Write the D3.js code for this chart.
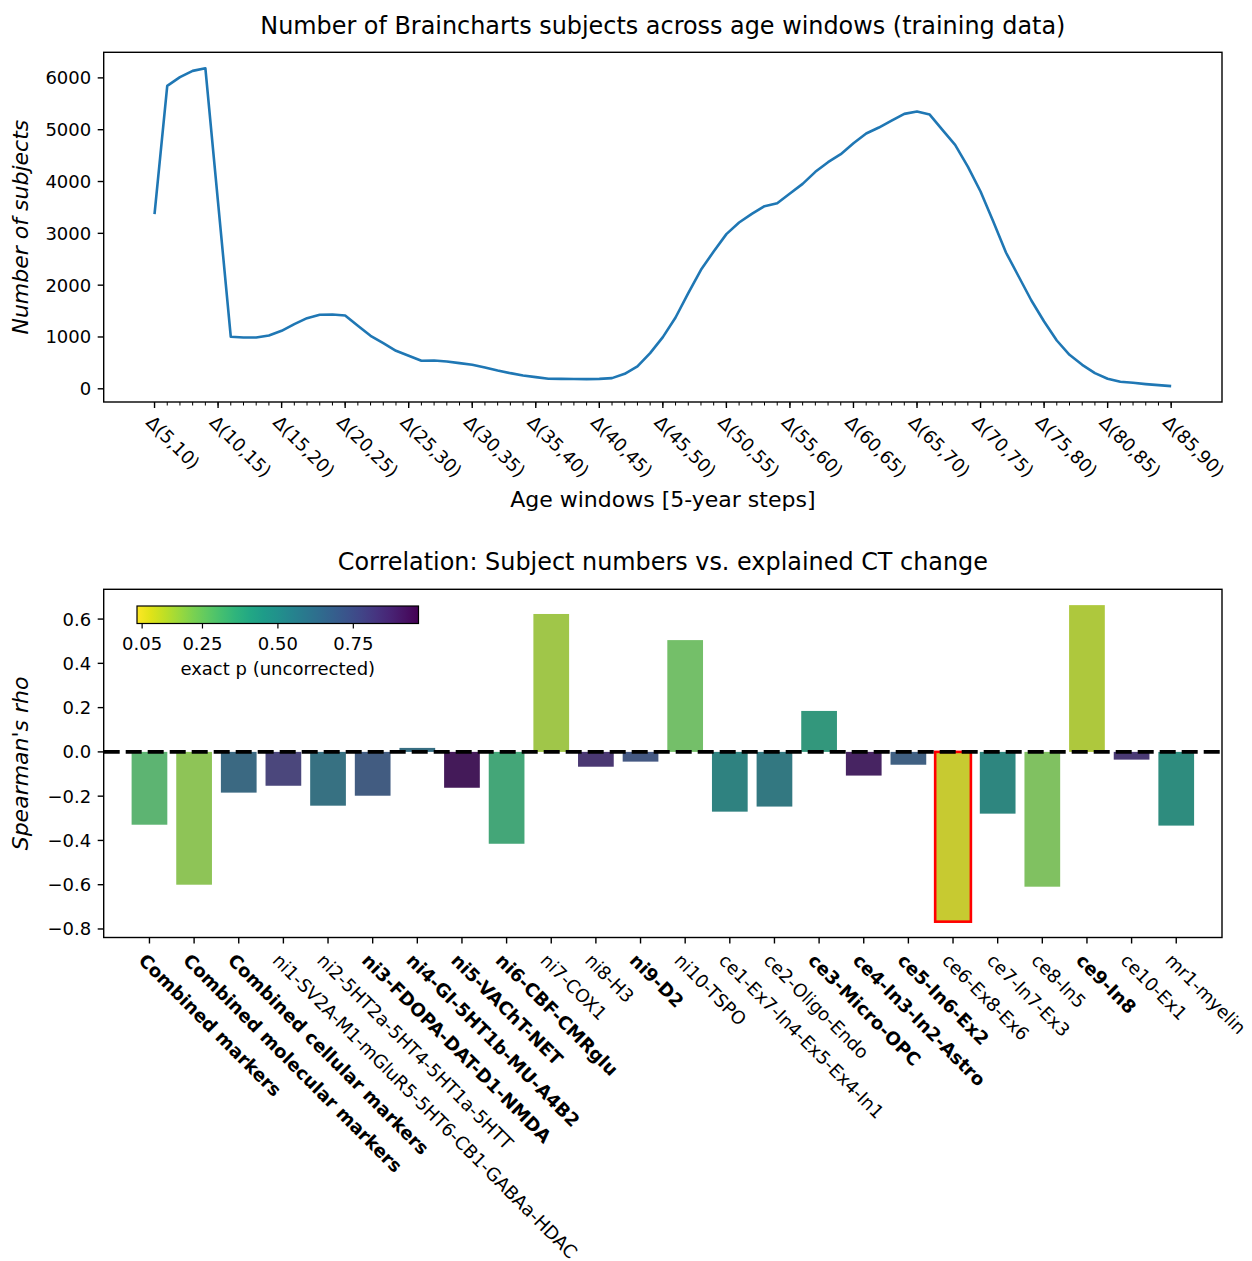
<!DOCTYPE html>
<html>
<head>
<meta charset="utf-8">
<script src="https://cdn.jsdelivr.net/npm/d3@7"></script>
<style>
  body { margin: 0; background: #fff; }
  text { font-family: "DejaVu Sans", sans-serif; fill: #000; }
</style>
</head>
<body>
<div id="fig"></div>
<script>
// subjects per 5-year window, window start age 5 .. 85 (1-year steps)
var subjectCounts = [
    3370, 5846, 6014, 6135, 6187, 3595, 1003, 990, 990, 1029,
    1119, 1248, 1363, 1428, 1434, 1415, 1216, 1023, 881, 733,
    637, 540, 547, 527, 495, 463, 412, 354, 302, 257,
    225, 195, 192, 188, 186, 192, 206, 289, 431, 688,
    997, 1376, 1846, 2296, 2650, 2985, 3209, 3376, 3524, 3582,
    3768, 3955, 4187, 4373, 4528, 4740, 4926, 5042, 5177, 5306,
    5350, 5292, 4997, 4708, 4289, 3807, 3228, 2630, 2167, 1704,
    1298, 932, 656, 463, 303, 193, 135, 116, 91, 71,
    52
];
var windowTickLabels = ["Δ(5,10)", "Δ(10,15)", "Δ(15,20)", "Δ(20,25)", "Δ(25,30)", "Δ(30,35)",
    "Δ(35,40)", "Δ(40,45)", "Δ(45,50)", "Δ(50,55)", "Δ(55,60)", "Δ(60,65)", "Δ(65,70)",
    "Δ(70,75)", "Δ(75,80)", "Δ(80,85)", "Δ(85,90)"];
var countTicks = [0, 1000, 2000, 3000, 4000, 5000, 6000];

// correlation bars
var markerNames = ["Combined markers", "Combined molecular markers", "Combined cellular markers",
    "ni1-SV2A-M1-mGluR5-5HT6-CB1-GABAa-HDAC", "ni2-5HT2a-5HT4-5HT1a-5HTT", "ni3-FDOPA-DAT-D1-NMDA",
    "ni4-GI-5HT1b-MU-A4B2", "ni5-VAChT-NET", "ni6-CBF-CMRglu", "ni7-COX1", "ni8-H3", "ni9-D2",
    "ni10-TSPO", "ce1-Ex7-In4-Ex5-Ex4-In1", "ce2-Oligo-Endo", "ce3-Micro-OPC", "ce4-In3-In2-Astro",
    "ce5-In6-Ex2", "ce6-Ex8-Ex6", "ce7-In7-Ex3", "ce8-In5", "ce9-In8", "ce10-Ex1", "mr1-myelin"];
var rhoValues = [-0.329, -0.600, -0.184, -0.153, -0.243, -0.198, 0.018, -0.162, -0.415, 0.623,
    -0.067, -0.044, 0.505, -0.270, -0.247, 0.185, -0.107, -0.058, -0.767, -0.279, -0.609, 0.663,
    -0.035, -0.333];
var pValues = [0.294, 0.192, 0.640, 0.798, 0.593, 0.705, 0.611, 0.929, 0.350, 0.154,
    0.845, 0.723, 0.248, 0.500, 0.555, 0.406, 0.901, 0.686, 0.080, 0.481, 0.220, 0.126,
    0.835, 0.453];
var boldMarkers = ["Combined markers", "Combined molecular markers", "Combined cellular markers",
    "ni3-FDOPA-DAT-D1-NMDA", "ni4-GI-5HT1b-MU-A4B2", "ni5-VAChT-NET", "ni6-CBF-CMRglu", "ni9-D2",
    "ce3-Micro-OPC", "ce4-In3-In2-Astro", "ce5-In6-Ex2", "ce9-In8"];
var highlighted = ["ce6-Ex8-Ex6"];
var rhoTicks = [-0.8, -0.6, -0.4, -0.2, 0.0, 0.2, 0.4, 0.6];
var pRange = [0.033, 0.966];
var pTicks = [0.05, 0.25, 0.50, 0.75];

var W = 1252, H = 1261;
var tickFont = 18, labelFont = 22, titleFont = 23.9, barLabelFont = 18.2;

var svg = d3.select("#fig").append("svg")
    .attr("width", W)
    .attr("height", H);
svg.append("rect").attr("width", W).attr("height", H).attr("fill", "#fff");

// matplotlib style 5% padding
function padded(lo, hi) {
    var m = (hi - lo) * 0.05;
    return [lo - m, hi + m];
}

/* ---------- top: subject counts ---------- */
var ax1 = { left: 103.7, right: 1222, top: 52.3, bottom: 402 };

var x1 = d3.scaleLinear()
    .domain(padded(0, subjectCounts.length - 1))
    .range([ax1.left, ax1.right]);
var y1 = d3.scaleLinear()
    .domain(padded(d3.min(subjectCounts), d3.max(subjectCounts)))
    .range([ax1.bottom, ax1.top]);

var g1 = svg.append("g");

// minor ticks every year
g1.selectAll(".minor")
    .data(d3.range(subjectCounts.length))
    .enter().append("line")
    .attr("x1", function(d) { return x1(d); })
    .attr("x2", function(d) { return x1(d); })
    .attr("y1", ax1.bottom)
    .attr("y2", ax1.bottom + 3.5)
    .attr("stroke", "#000")
    .attr("stroke-width", 1);

// major x ticks
windowTickLabels.forEach(function(lab, i) {
    var xx = x1(i * 5);
    g1.append("line")
        .attr("x1", xx).attr("x2", xx)
        .attr("y1", ax1.bottom).attr("y2", ax1.bottom + 6)
        .attr("stroke", "#000").attr("stroke-width", 1.4);
    g1.append("text")
        .attr("transform", "translate(" + (xx - 9.5) + "," + (ax1.bottom + 21.5) + ") rotate(45)")
        .attr("font-size", tickFont)
        .text(lab);
});

// y ticks
countTicks.forEach(function(v) {
    var yy = y1(v);
    g1.append("line")
        .attr("x1", ax1.left - 6).attr("x2", ax1.left)
        .attr("y1", yy).attr("y2", yy)
        .attr("stroke", "#000").attr("stroke-width", 1.4);
    g1.append("text")
        .attr("x", ax1.left - 12.5)
        .attr("y", yy)
        .attr("dy", "0.36em")
        .attr("text-anchor", "end")
        .attr("font-size", tickFont)
        .text(v);
});

g1.append("path")
    .datum(subjectCounts)
    .attr("fill", "none")
    .attr("stroke", "#1f77b4")
    .attr("stroke-width", 2.6)
    .attr("stroke-linejoin", "round")
    .attr("d", d3.line()
        .x(function(d, i) { return x1(i); })
        .y(function(d) { return y1(d); }));

g1.append("rect")
    .attr("x", ax1.left).attr("y", ax1.top)
    .attr("width", ax1.right - ax1.left).attr("height", ax1.bottom - ax1.top)
    .attr("fill", "none").attr("stroke", "#000").attr("stroke-width", 1.4);

g1.append("text")
    .attr("x", (ax1.left + ax1.right) / 2).attr("y", 34)
    .attr("text-anchor", "middle")
    .attr("font-size", titleFont)
    .text("Number of Braincharts subjects across age windows (training data)");

g1.append("text")
    .attr("x", (ax1.left + ax1.right) / 2).attr("y", 507)
    .attr("text-anchor", "middle")
    .attr("font-size", labelFont)
    .text("Age windows [5-year steps]");

g1.append("text")
    .attr("transform", "translate(28," + ((ax1.top + ax1.bottom) / 2) + ") rotate(-90)")
    .attr("text-anchor", "middle")
    .attr("font-size", labelFont)
    .attr("font-style", "italic")
    .text("Number of subjects");

/* ---------- bottom: correlation bars ---------- */
var ax2 = { left: 103.7, right: 1222, top: 589.3, bottom: 937.5 };

var x2 = d3.scaleLinear()
    .domain([-1.025, markerNames.length - 1 + 1.025])
    .range([ax2.left, ax2.right]);
var y2 = d3.scaleLinear()
    .domain(padded(Math.min(0, d3.min(rhoValues)), Math.max(0, d3.max(rhoValues))))
    .range([ax2.bottom, ax2.top]);

var pNorm = d3.scaleLinear().domain(pRange).range([1, 0]);
function pColor(p) {
    return d3.interpolateViridis(pNorm(p));
}
// seaborn bars use saturation 0.75
function barColor(p) {
    var c = d3.hsl(pColor(p));
    c.s *= 0.75;
    return c.formatHex();
}

var bars = markerNames.map(function(name, i) {
    return { name: name, rho: rhoValues[i], p: pValues[i], i: i };
});

var g2 = svg.append("g");
var barW = 0.8;

g2.selectAll(".bar")
    .data(bars)
    .enter().append("rect")
    .attr("x", function(d) { return x2(d.i - barW / 2); })
    .attr("width", x2(barW) - x2(0))
    .attr("y", function(d) { return y2(Math.max(0, d.rho)); })
    .attr("height", function(d) { return Math.abs(y2(d.rho) - y2(0)); })
    .attr("fill", function(d) { return barColor(d.p); })
    .attr("stroke", function(d) { return highlighted.indexOf(d.name) >= 0 ? "#ff0000" : "none"; })
    .attr("stroke-width", 2.6);

g2.append("line")
    .attr("x1", ax2.left).attr("x2", ax2.right)
    .attr("y1", y2(0)).attr("y2", y2(0))
    .attr("stroke", "#000")
    .attr("stroke-width", 3.6)
    .attr("stroke-dasharray", "16,6");

// x ticks + labels
bars.forEach(function(d) {
    var xx = x2(d.i);
    g2.append("line")
        .attr("x1", xx).attr("x2", xx)
        .attr("y1", ax2.bottom).attr("y2", ax2.bottom + 6)
        .attr("stroke", "#000").attr("stroke-width", 1.4);
    g2.append("text")
        .attr("transform", "translate(" + (xx - 12) + "," + (ax2.bottom + 24) + ") rotate(45)")
        .attr("font-size", barLabelFont)
        .attr("font-weight", boldMarkers.indexOf(d.name) >= 0 ? "bold" : "normal")
        .text(d.name);
});

var fmt = d3.format(".1f");
rhoTicks.forEach(function(v) {
    var yy = y2(v);
    g2.append("line")
        .attr("x1", ax2.left - 6).attr("x2", ax2.left)
        .attr("y1", yy).attr("y2", yy)
        .attr("stroke", "#000").attr("stroke-width", 1.4);
    g2.append("text")
        .attr("x", ax2.left - 12.5)
        .attr("y", yy)
        .attr("dy", "0.36em")
        .attr("text-anchor", "end")
        .attr("font-size", tickFont)
        .text(fmt(v));
});

g2.append("rect")
    .attr("x", ax2.left).attr("y", ax2.top)
    .attr("width", ax2.right - ax2.left).attr("height", ax2.bottom - ax2.top)
    .attr("fill", "none").attr("stroke", "#000").attr("stroke-width", 1.4);

g2.append("text")
    .attr("x", (ax2.left + ax2.right) / 2).attr("y", 570)
    .attr("text-anchor", "middle")
    .attr("font-size", titleFont)
    .text("Correlation: Subject numbers vs. explained CT change");

g2.append("text")
    .attr("transform", "translate(28," + ((ax2.top + ax2.bottom) / 2) + ") rotate(-90)")
    .attr("text-anchor", "middle")
    .attr("font-size", labelFont)
    .attr("font-style", "italic")
    .text("Spearman's rho");

/* ---------- colorbar ---------- */
var cb = { left: 137, right: 418.5, top: 606, bottom: 623.5 };
var cx = d3.scaleLinear().domain(pRange).range([cb.left, cb.right]);

var grad = svg.append("defs").append("linearGradient")
    .attr("id", "cbgrad")
    .attr("x1", "0%").attr("x2", "100%").attr("y1", "0%").attr("y2", "0%");
d3.range(0, 1.0001, 0.05).forEach(function(t) {
    grad.append("stop")
        .attr("offset", (t * 100) + "%")
        .attr("stop-color", pColor(pRange[0] + t * (pRange[1] - pRange[0])));
});

var g3 = svg.append("g");
g3.append("rect")
    .attr("x", cb.left).attr("y", cb.top)
    .attr("width", cb.right - cb.left).attr("height", cb.bottom - cb.top)
    .attr("fill", "url(#cbgrad)")
    .attr("stroke", "#000").attr("stroke-width", 1.2);

pTicks.forEach(function(v) {
    var xx = cx(v);
    g3.append("line")
        .attr("x1", xx).attr("x2", xx)
        .attr("y1", cb.bottom).attr("y2", cb.bottom + 5)
        .attr("stroke", "#000").attr("stroke-width", 1.2);
    g3.append("text")
        .attr("x", xx).attr("y", 650)
        .attr("text-anchor", "middle")
        .attr("font-size", tickFont)
        .text(d3.format(".2f")(v));
});

g3.append("text")
    .attr("x", (cb.left + cb.right) / 2).attr("y", 675)
    .attr("text-anchor", "middle")
    .attr("font-size", tickFont)
    .text("exact p (uncorrected)");
</script>
</body>
</html>
